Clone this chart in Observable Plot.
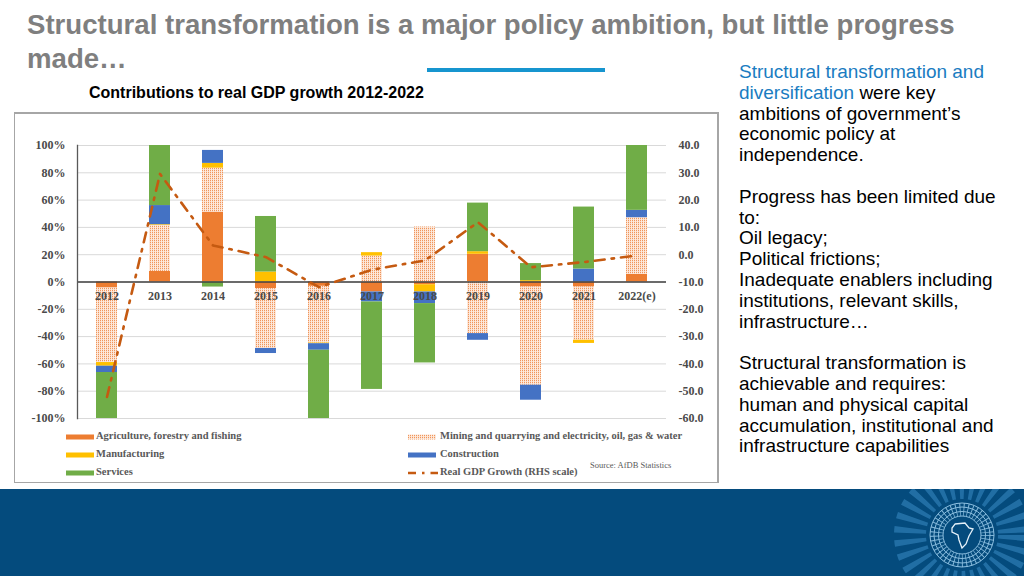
<!DOCTYPE html>
<html>
<head>
<meta charset="utf-8">
<script src="https://cdn.jsdelivr.net/npm/d3@7"></script>
<script src="https://cdn.jsdelivr.net/npm/@observablehq/plot@0.6"></script>
<style>
  html, body { margin: 0; padding: 0; }
  body { width: 1024px; height: 576px; overflow: hidden; position: relative; background: #fff; font-family: "Liberation Sans", Arial, sans-serif; }
  .abs { position: absolute; }
  #title { left: 27px; top: 8px; font-size: 27.6px; font-weight: bold; color: #7f7f7f; line-height: 34px; white-space: nowrap; }
  #rule { left: 427px; top: 68px; width: 178px; height: 4px; background: #1795cf; }
  #subtitle { left: 89px; top: 84px; font-size: 16px; font-weight: bold; color: #000; white-space: nowrap; }
  #box { left: 14px; top: 112px; width: 702px; height: 368px; border: 2px solid #a6a6a6; border-left-width: 1px; border-bottom-width: 1px; }
  #chart { left: 14px; top: 112px; }
  #side { left: 739px; top: 62px; font-size: 19px; line-height: 20.8px; color: #000; white-space: nowrap; }
  #side .blue { color: #1a7cc1; }
  .leg { position: absolute; font-family: "Liberation Serif", serif; font-weight: bold; font-size: 10.5px; color: #595959; white-space: nowrap; }
  #source { left: 590px; top: 460px; font-family: "Liberation Serif", serif; font-size: 8.5px; color: #595959; }
  #band { left: 0; top: 489px; width: 1024px; height: 87px; background: #044b7d; }
</style>
</head>
<body>
<svg width="0" height="0" style="position:absolute">
  <defs>
    <pattern id="dots" width="2" height="2" patternUnits="userSpaceOnUse">
      <rect width="2" height="2" fill="#fde9dc"></rect>
      <rect x="0" y="0" width="1" height="1.2" fill="#f0955a"></rect>
    </pattern>
  </defs>
</svg>
<div id="title" class="abs">Structural transformation is a major policy ambition, but little progress<br>made…</div>
<div id="rule" class="abs"></div>
<div id="subtitle" class="abs">Contributions to real GDP growth 2012-2022</div>
<div id="box" class="abs"></div>
<div id="chart" class="abs"></div>
<div id="legend"></div>
<div id="source" class="abs">Source: AfDB Statistics</div>
<div id="side" class="abs">
<span class="blue">Structural transformation and<br>diversification</span> were key<br>ambitions of government’s<br>economic policy at<br>independence.<br><br>Progress has been limited due<br>to:<br>Oil legacy;<br>Political frictions;<br>Inadequate enablers including<br>institutions, relevant skills,<br>infrastructure…<br><br>Structural transformation is<br>achievable and requires:<br>human and physical capital<br>accumulation, institutional and<br>infrastructure capabilities
</div>
<div id="band" class="abs">
  <svg width="1024" height="87" style="position:absolute;left:0;top:0">
    <g transform="translate(962,46)" fill="none">
      <circle r="52" stroke="#3a8cc4" stroke-width="32" stroke-dasharray="5 6" opacity="0.55"></circle>
      <circle r="25.5" stroke="#8cbfe0" stroke-width="13" stroke-dasharray="0.9 3" opacity="0.9"></circle>
      <circle r="19" stroke="#8cbfe0" stroke-width="1"></circle>
      <circle r="23.5" stroke="#8cbfe0" stroke-width="1"></circle>
      <circle r="28" stroke="#8cbfe0" stroke-width="1"></circle>
      <circle r="32" stroke="#8cbfe0" stroke-width="1"></circle>
      <path d="M-7,-11 L3,-12 L7,-7 L11,-6 L7,1 L4,9 L0,13 L-3,5 L-4,0 L-10,-3 L-10,-7 Z" stroke="#e6f2fa" stroke-width="1.3"></path>
    </g>
  </svg>
</div>
<script>
const years = ["2012","2013","2014","2015","2016","2017","2018","2019","2020","2021","2022(e)"];
const sectors = ["Agriculture, forestry and fishing","Mining and quarrying and electricity, oil, gas & water","Manufacturing","Construction","Services"];
const agriculture   = [-4.4, 7.8, 51.2, -4.9, -3.2, -7.3, -2.0, 20.3, -3.7, -3.7, 5.6];
const mining        = [-54.6, 33.7, 32.2, -43.8, -41.5, 19.0, 40.3, -37.8, -71.9, -39.0, 41.5];
const manufacturing = [-2.7, 0.5, 3.5, 7.3, -0.5, 2.5, -5.3, 1.9, 1.0, -2.3, 0];
const construction  = [-4.6, 14.0, 9.5, -3.7, -4.8, -7.3, -8.5, -4.9, -11.0, 9.5, 5.4];
const services      = [-33.7, 44.0, -3.7, 40.7, -50.0, -64.1, -43.5, 35.6, 12.5, 45.4, 47.5];
const gdpGrowth     = [-52.1, 29.6, 3.4, -0.9, -11.9, -5.5, -2.1, 11.9, -4.6, -2.7, -0.3];
const gdpLabel = "Real GDP Growth (RHS scale)";
const leftTicks = [100, 80, 60, 40, 20, 0, -20, -40, -60, -80, -100];
const rightTicks = [40, 30, 20, 10, 0, -10, -20, -30, -40, -50, -60];
const sectorColors = ["#ed7d31", "url(#dots)", "#ffc000", "#4472c4", "#70ad47"];
const lineColor = "#c55a11";

const series = [agriculture, mining, manufacturing, construction, services];
const rows = [];
series.forEach((vals, s) => vals.forEach((v, i) => rows.push({year: years[i], sector: sectors[s], value: v})));
const gdpRows = years.map((y, i) => ({year: y, gdp: gdpGrowth[i]}));
// RHS scale (-60..40) mapped onto LHS (-100..100)
const rhsToLhs = g => 2 * g + 20;
const lhsToRhs = p => (p - 20) / 2;

const chart = Plot.plot({
  width: 704, height: 320,
  marginLeft: 63, marginRight: 52, marginTop: 33, marginBottom: 14,
  x: {type: "band", domain: years, paddingInner: 0.6, paddingOuter: 0.3, axis: null},
  y: {domain: [-100, 100], axis: null},
  color: {domain: sectors, range: sectorColors},
  style: {fontFamily: "'Liberation Serif', serif", fontWeight: "bold", fontSize: "12px", color: "#4a4a4a", background: "transparent"},
  marks: [
    Plot.gridY(leftTicks, {stroke: "#d9d9d9", strokeOpacity: 1}),
    Plot.barY(rows, {x: "year", y: "value", fill: "sector", clip: true}),
    Plot.ruleY([0], {stroke: "#404040", strokeWidth: 1.3}),
    Plot.frame({anchor: "left", stroke: "#595959", strokeWidth: 1.3}),
    Plot.axisY(leftTicks, {anchor: "left", label: null, tickSize: 0, tickPadding: 12, tickFormat: d => d + "%", fill: "#4a4a4a"}),
    Plot.axisY(rightTicks.map(rhsToLhs), {anchor: "right", label: null, tickSize: 0, tickPadding: 12, textAnchor: "start", tickFormat: p => lhsToRhs(p).toFixed(1), fill: "#4a4a4a"}),
    Plot.text(years, {x: d => d, y: d => 0, dy: 14, text: d => d, fill: "#4a4a4a", fontWeight: "bold", fontSize: 12}),
    Plot.line(gdpRows, {x: "year", y: d => rhsToLhs(d.gdp), stroke: lineColor, strokeWidth: 2.6, strokeDasharray: "10 7 2.5 7"})
  ]
});
document.getElementById("chart").appendChild(chart);

// legend
const legendItems = sectors.map((s, i) => ({label: s, color: sectorColors[i], type: "rect"})).concat([{label: gdpLabel, color: lineColor, type: "line"}]);
const legend = document.getElementById("legend");
legendItems.forEach((it, i) => {
  const col = i % 2, row = Math.floor(i / 2);
  const sx = col === 0 ? 66 : 408, tx = col === 0 ? 96 : 440;
  const cy = 437 + row * 18;
  const sw = document.createElementNS("http://www.w3.org/2000/svg", "svg");
  sw.setAttribute("width", 30); sw.setAttribute("height", 8);
  sw.style.position = "absolute"; sw.style.left = sx + "px"; sw.style.top = (cy - 4) + "px";
  if (it.type === "rect") {
    sw.innerHTML = `<rect x="0" y="1.5" width="28" height="5" fill="${it.color}"></rect>`;
  } else {
    sw.innerHTML = `<line x1="0" x2="30" y1="4" y2="4" stroke="${it.color}" stroke-width="2.6" stroke-dasharray="8 6 2.5 6"></line>`;
  }
  legend.appendChild(sw);
  const t = document.createElement("div");
  t.className = "leg"; t.textContent = it.label;
  t.style.left = tx + "px"; t.style.top = (cy - 7) + "px";
  legend.appendChild(t);
});
</script>
</body>
</html>
